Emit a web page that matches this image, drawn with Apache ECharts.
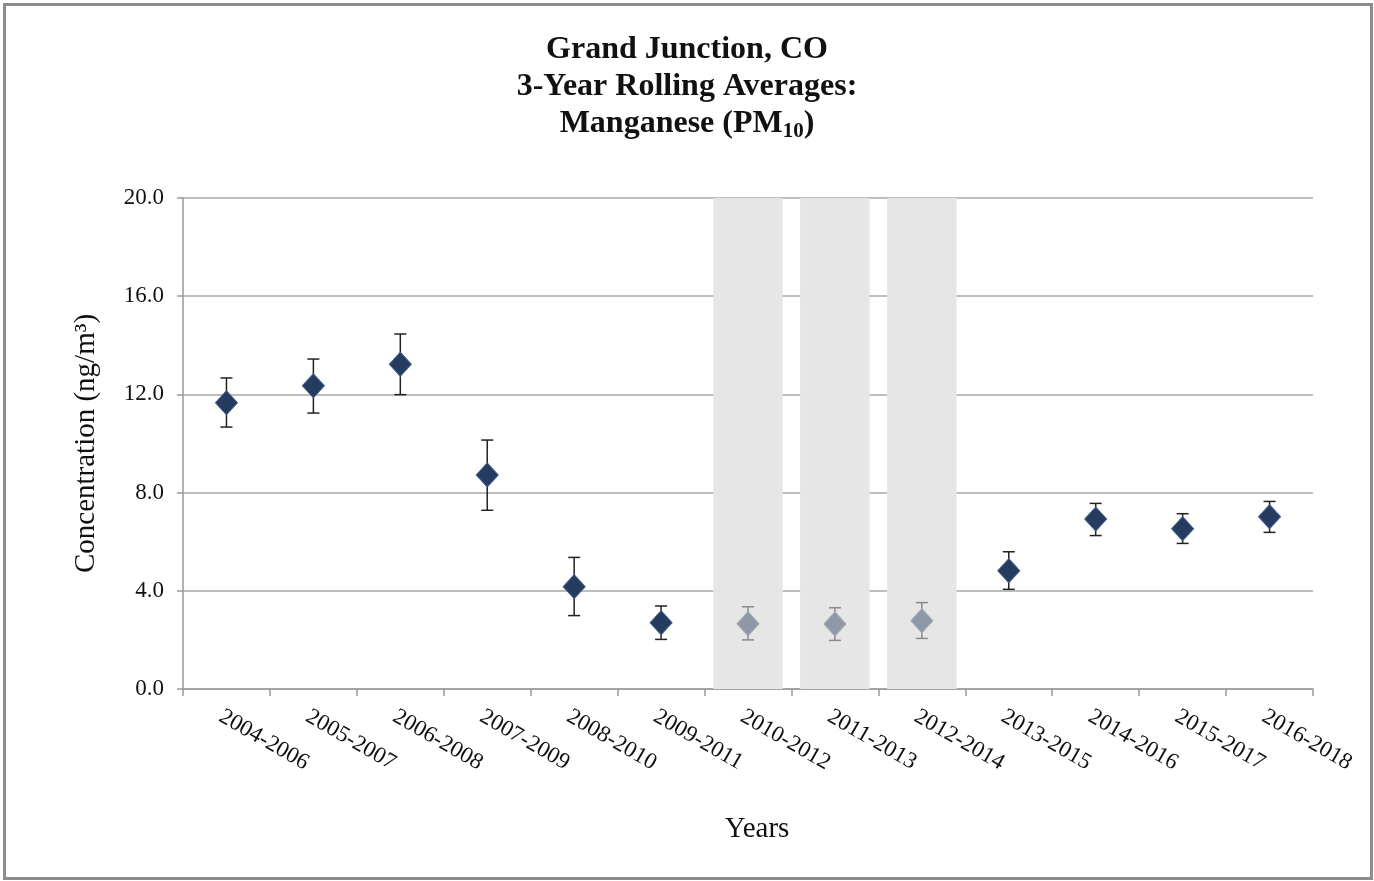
<!DOCTYPE html>
<html>
<head>
<meta charset="utf-8">
<script src="https://cdn.jsdelivr.net/npm/echarts@6/dist/echarts.min.js"></script>
<style>
html,body{margin:0;padding:0;background:#fff;}
#frame{position:absolute;left:3px;top:3px;width:1364px;height:871px;border:3px solid #8c8c8c;}
#chart{position:absolute;left:0;top:0;width:1374px;height:881px;}
</style>
</head>
<body>
<div id="frame"></div>
<div id="chart"></div>
<script>
const categories = ['2004-2006','2005-2007','2006-2008','2007-2009','2008-2010','2009-2011','2010-2012','2011-2013','2012-2014','2013-2015','2014-2016','2015-2017','2016-2018'];
const averages = [11.66, 12.35, 13.23, 8.72, 4.17, 2.70, 2.66, 2.65, 2.78, 4.82, 6.92, 6.53, 7.02];
const upperBounds = [12.67, 13.44, 14.46, 10.14, 5.36, 3.38, 3.35, 3.31, 3.52, 5.59, 7.56, 7.14, 7.64];
const lowerBounds = [10.67, 11.24, 11.99, 7.28, 2.99, 2.02, 2.00, 1.98, 2.06, 4.06, 6.25, 5.93, 6.38];
const shaded = [false,false,false,false,false,false,true,true,true,false,false,false,false];
const yTicks = [0, 4, 8, 12, 16, 20];

const serif = '"Liberation Serif","Times New Roman",serif';
const dark = '#263b60';
const light = '#8f98a6';

const pointData = categories.map((c,i)=>({
  value: averages[i],
  itemStyle: {color: shaded[i] ? light : dark, borderColor: shaded[i] ? '#a0a8b5' : '#3f5a88', borderWidth: 1, opacity: 1}
}));
const errData = categories.map((c,i)=>[i, lowerBounds[i], upperBounds[i], shaded[i] ? 1 : 0]);
const bandData = categories.map((c,i)=> shaded[i] ? yTicks[yTicks.length-1] : null);

const chart = echarts.init(document.getElementById('chart'));
chart.setOption({
  animation: false,
  backgroundColor: 'transparent',
  title: {
    text: '{t|Grand Junction, CO}\n{t|3-Year Rolling Averages:}\n{t|Manganese (PM}{s|10}{t|)}',
    left: 'center',
    top: 26,
    textStyle: {
      rich: {
        t: {fontFamily: serif, fontWeight: 'bold', fontSize: 32, color: '#111', lineHeight: 37},
        s: {fontFamily: serif, fontWeight: 'bold', fontSize: 21, color: '#111', lineHeight: 37, verticalAlign: 'bottom', padding: [14,0,0,0]}
      }
    }
  },
  grid: {left: 183, right: 61, top: 198, bottom: 192, containLabel: false},
  xAxis: {
    type: 'category',
    data: categories,
    boundaryGap: true,
    axisLine: {show: true, lineStyle: {color: '#9a9a9a', width: 1.5}},
    axisTick: {show: true, alignWithLabel: false, length: 7, lineStyle: {color: '#9a9a9a', width: 1.5}},
    axisLabel: {rotate: -30, interval: 0, fontFamily: serif, fontSize: 23, color: '#111', margin: 16, align: 'left', verticalAlign: 'top'},
    name: 'Years',
    nameLocation: 'middle',
    nameGap: 126,
    nameTextStyle: {fontFamily: serif, fontSize: 29, color: '#111', padding: [0, 0, 0, 18]}
  },
  yAxis: {
    type: 'value',
    min: 0, max: 20, interval: 4,
    axisLine: {show: true, lineStyle: {color: '#9a9a9a', width: 1.5}},
    axisTick: {show: true, length: 6, lineStyle: {color: '#9a9a9a', width: 1.5}},
    splitLine: {show: true, lineStyle: {color: '#a8a8a8', width: 1.5}},
    axisLabel: {formatter: v => v.toFixed(1), fontFamily: serif, fontSize: 23, color: '#111', margin: 19},
    name: 'Concentration (ng/m³)',
    nameLocation: 'middle',
    nameGap: 82,
    nameRotate: 90,
    nameTextStyle: {fontFamily: serif, fontSize: 29, color: '#111'}
  },
  series: [
    {
      type: 'bar',
      data: bandData,
      barWidth: '80%',
      barGap: '0%',
      itemStyle: {color: '#e6e6e6'},
      silent: true,
      z: 1
    },
    {
      type: 'custom',
      z: 3,
      renderItem: function(params, api){
        const x = api.value(0);
        const lo = api.coord([x, api.value(1)]);
        const hi = api.coord([x, api.value(2)]);
        const col = api.value(3) ? '#8a8a8a' : '#222';
        const hw = 6;
        const st = {stroke: col, lineWidth: 1.5};
        return {type: 'group', children: [
          {type: 'line', shape: {x1: hi[0], y1: hi[1], x2: lo[0], y2: lo[1]}, style: st},
          {type: 'line', shape: {x1: hi[0]-hw, y1: hi[1], x2: hi[0]+hw, y2: hi[1]}, style: st},
          {type: 'line', shape: {x1: lo[0]-hw, y1: lo[1], x2: lo[0]+hw, y2: lo[1]}, style: st}
        ]};
      },
      data: errData
    },
    {
      type: 'scatter',
      data: pointData,
      symbol: 'diamond',
      symbolSize: [22, 24],
      itemStyle: {opacity: 1},
      z: 5
    }
  ]
});
</script>
</body>
</html>
